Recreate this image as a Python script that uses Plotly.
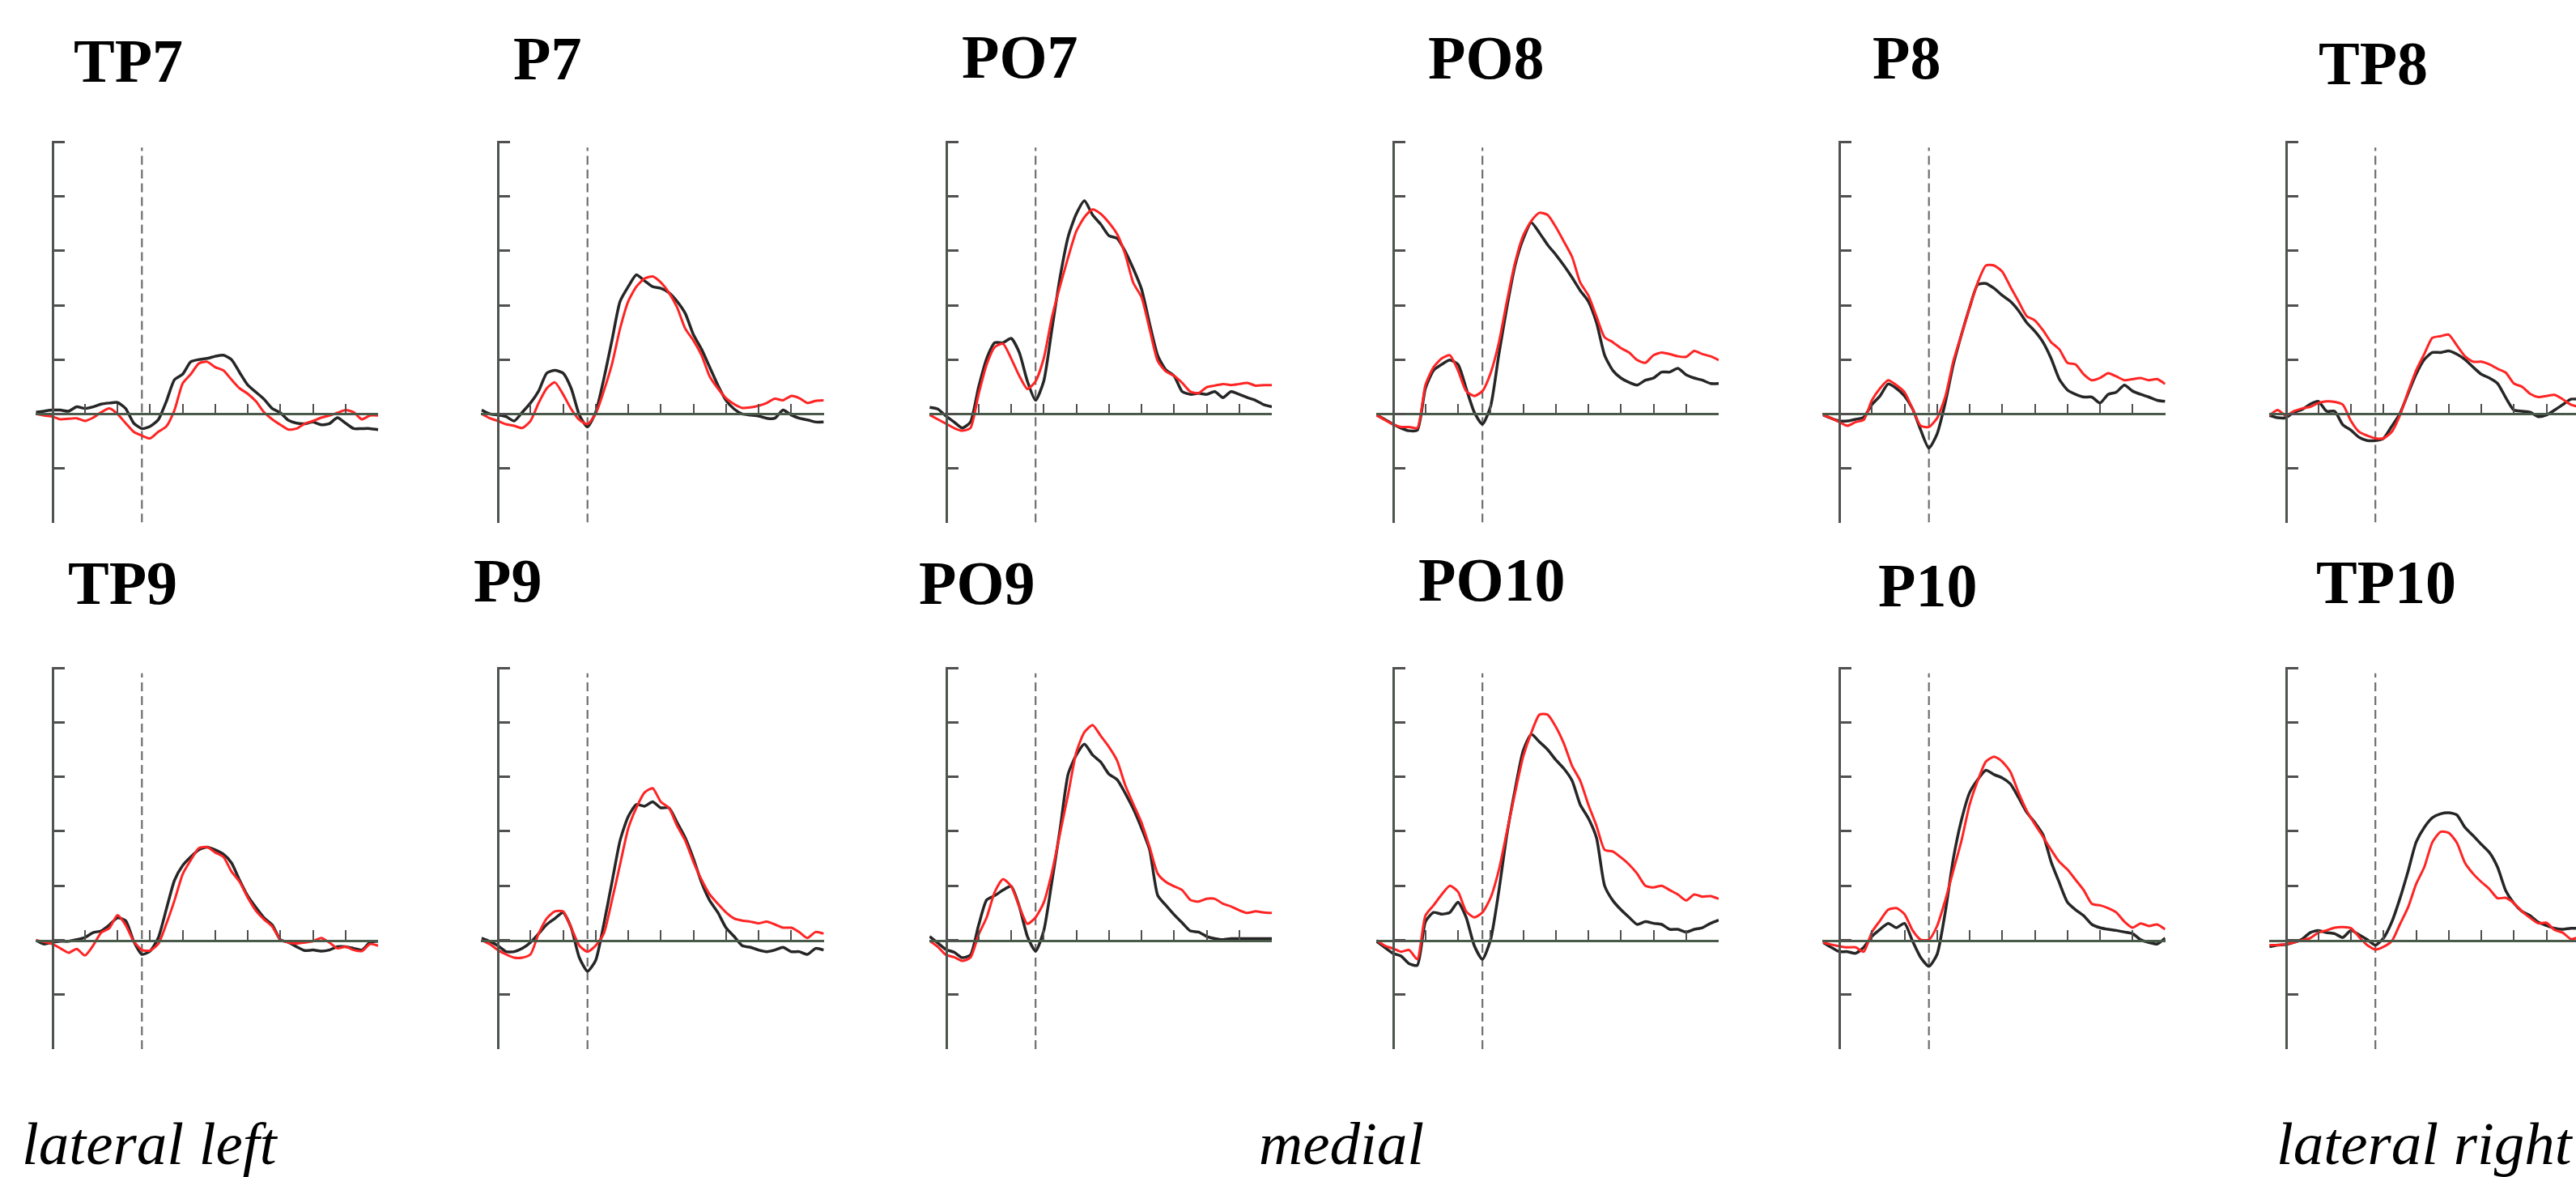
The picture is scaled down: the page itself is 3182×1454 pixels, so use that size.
import plotly.graph_objects as go

# ---------------- data ----------------
TIME = list(range(-325, 726, 25))          # ms, sample grid of the traces
XTICKS = list(range(-275, 726, 100))       # x tick positions (ms)
YTICKS = [-1, 0, 1, 2, 3, 4, 5]            # y tick positions (uV)
Y_RANGE = [-2, 5.02]
X_START = -326
X_END = 725.5
ONSET = 0
ONSET_SPAN = [-2, 4.9]

CHANNELS = [["TP7", "P7", "PO7", "PO8", "P8", "TP8"],
            ["TP9", "P9", "PO9", "PO10", "P10", "TP10"]]

TP7_black = [0.03, 0.05, 0.07, 0.07, 0.05, 0.13, 0.10, 0.13, 0.18, 0.20, 0.21, 0.10, -0.17, -0.27, -0.23, -0.11, 0.23, 0.63, 0.73, 0.96, 1.00, 1.02, 1.06, 1.08, 1.00, 0.76, 0.53, 0.40, 0.27, 0.10, 0.02, -0.12, -0.17, -0.18, -0.15, -0.20, -0.18, -0.07, -0.17, -0.27, -0.27, -0.27, -0.29]
TP7_red = [0, -0.03, -0.05, -0.10, -0.09, -0.08, -0.13, -0.07, 0.03, 0.10, 0, -0.17, -0.33, -0.40, -0.45, -0.33, -0.23, 0.07, 0.56, 0.73, 0.93, 0.96, 0.86, 0.80, 0.63, 0.47, 0.37, 0.23, 0.03, -0.10, -0.20, -0.29, -0.27, -0.18, -0.13, -0.07, -0.03, 0.02, 0.07, 0.03, -0.10, -0.03, -0.03]
P7_black = [0.07, 0, -0.02, -0.05, -0.13, 0.03, 0.20, 0.42, 0.75, 0.80, 0.75, 0.47, -0.02, -0.24, 0.03, 0.64, 1.35, 2.07, 2.34, 2.56, 2.45, 2.34, 2.31, 2.23, 2.07, 1.85, 1.46, 1.19, 0.86, 0.53, 0.25, 0.09, 0, -0.02, -0.04, -0.08, -0.08, 0.07, -0.02, -0.08, -0.11, -0.15, -0.15]
P7_red = [0, -0.08, -0.13, -0.19, -0.22, -0.26, -0.13, 0.20, 0.47, 0.58, 0.36, 0.09, -0.11, -0.19, 0, 0.42, 0.91, 1.57, 2.07, 2.34, 2.49, 2.53, 2.42, 2.23, 1.96, 1.57, 1.35, 1.08, 0.69, 0.47, 0.29, 0.18, 0.11, 0.12, 0.15, 0.20, 0.28, 0.25, 0.33, 0.29, 0.20, 0.24, 0.25]
PO7_black = [0.12, 0.09, -0.04, -0.15, -0.26, -0.15, 0.49, 1.02, 1.31, 1.31, 1.39, 1.13, 0.60, 0.25, 0.60, 1.55, 2.51, 3.26, 3.68, 3.92, 3.66, 3.49, 3.28, 3.23, 2.99, 2.67, 2.30, 1.66, 1.07, 0.81, 0.70, 0.41, 0.36, 0.38, 0.36, 0.41, 0.30, 0.41, 0.36, 0.30, 0.25, 0.17, 0.13]
PO7_red = [-0.02, -0.10, -0.18, -0.26, -0.31, -0.26, 0.36, 0.91, 1.23, 1.29, 1.02, 0.70, 0.46, 0.60, 1.02, 1.77, 2.35, 2.88, 3.36, 3.62, 3.76, 3.68, 3.52, 3.31, 2.94, 2.41, 2.15, 1.56, 0.97, 0.78, 0.70, 0.57, 0.41, 0.38, 0.49, 0.52, 0.55, 0.53, 0.55, 0.57, 0.52, 0.53, 0.53]
PO8_black = [-0.02, -0.10, -0.19, -0.26, -0.31, -0.30, 0.47, 0.80, 0.91, 0.99, 0.91, 0.47, 0.03, -0.19, 0.14, 1.08, 1.96, 2.73, 3.22, 3.52, 3.33, 3.11, 2.93, 2.73, 2.51, 2.27, 2.07, 1.68, 1.08, 0.80, 0.66, 0.58, 0.53, 0.62, 0.66, 0.77, 0.77, 0.84, 0.72, 0.66, 0.62, 0.56, 0.56]
PO8_red = [-0.02, -0.11, -0.19, -0.24, -0.24, -0.26, 0.53, 0.86, 1.02, 1.08, 0.80, 0.42, 0.33, 0.42, 0.75, 1.30, 2.07, 2.78, 3.28, 3.55, 3.70, 3.66, 3.44, 3.17, 2.89, 2.42, 2.18, 1.79, 1.41, 1.32, 1.21, 1.13, 0.99, 0.94, 1.08, 1.13, 1.10, 1.06, 1.05, 1.16, 1.10, 1.06, 0.99]
P8_black = [-0.02, -0.08, -0.13, -0.13, -0.10, -0.06, 0.17, 0.33, 0.55, 0.47, 0.33, 0.09, -0.30, -0.63, -0.37, 0.20, 0.91, 1.46, 1.96, 2.38, 2.40, 2.31, 2.18, 2.07, 1.90, 1.68, 1.52, 1.32, 1.02, 0.64, 0.44, 0.36, 0.31, 0.31, 0.20, 0.36, 0.40, 0.53, 0.42, 0.36, 0.31, 0.25, 0.23]
P8_red = [-0.02, -0.08, -0.15, -0.22, -0.15, -0.11, 0.25, 0.47, 0.62, 0.53, 0.40, 0.09, -0.22, -0.24, -0.08, 0.31, 0.97, 1.46, 1.96, 2.42, 2.73, 2.73, 2.62, 2.34, 2.07, 1.80, 1.72, 1.54, 1.32, 1.19, 0.94, 0.91, 0.73, 0.62, 0.66, 0.75, 0.69, 0.62, 0.64, 0.66, 0.62, 0.64, 0.55]
TP8_black = [-0.03, -0.07, -0.07, 0.03, 0.08, 0.18, 0.23, 0.05, 0.05, -0.20, -0.30, -0.43, -0.49, -0.49, -0.45, -0.23, 0, 0.37, 0.73, 1.00, 1.13, 1.13, 1.16, 1.10, 1.00, 0.86, 0.73, 0.66, 0.56, 0.30, 0.07, 0.05, 0.03, -0.05, -0.02, 0.07, 0.17, 0.27, 0.27]
TP8_red = [-0.03, 0.07, -0.03, 0.05, 0.10, 0.13, 0.20, 0.23, 0.22, 0.17, -0.13, -0.33, -0.40, -0.45, -0.45, -0.33, -0.03, 0.40, 0.80, 1.10, 1.40, 1.43, 1.46, 1.26, 1.06, 0.96, 0.96, 0.91, 0.83, 0.76, 0.56, 0.50, 0.37, 0.31, 0.33, 0.35, 0.27, 0.17, 0.13]
TP9_black = [0, -0.07, -0.04, -0.02, -0.02, 0.01, 0.05, 0.14, 0.17, 0.28, 0.41, 0.36, -0.02, -0.26, -0.20, 0.04, 0.57, 1.10, 1.37, 1.53, 1.66, 1.71, 1.66, 1.58, 1.42, 1.10, 0.81, 0.60, 0.41, 0.28, 0.01, -0.04, -0.12, -0.19, -0.18, -0.20, -0.18, -0.12, -0.12, -0.15, -0.18, -0.04, -0.02]
TP9_red = [0, -0.03, -0.07, -0.15, -0.23, -0.16, -0.28, -0.10, 0.14, 0.22, 0.46, 0.28, -0.02, -0.18, -0.19, -0.07, 0.30, 0.73, 1.21, 1.47, 1.69, 1.71, 1.61, 1.53, 1.26, 1.07, 0.78, 0.54, 0.38, 0.25, 0.01, -0.04, -0.06, -0.04, -0.02, 0.04, -0.04, -0.15, -0.12, -0.18, -0.20, -0.07, -0.10]
P9_black = [0.04, -0.02, -0.10, -0.21, -0.21, -0.15, -0.04, 0.12, 0.29, 0.40, 0.51, 0.23, -0.32, -0.57, -0.37, 0.29, 1.06, 1.83, 2.27, 2.49, 2.46, 2.54, 2.43, 2.43, 2.16, 1.88, 1.50, 1.06, 0.73, 0.51, 0.23, 0.07, -0.10, -0.13, -0.18, -0.21, -0.18, -0.13, -0.21, -0.21, -0.26, -0.15, -0.18]
P9_red = [0, -0.07, -0.18, -0.26, -0.32, -0.32, -0.26, 0.12, 0.40, 0.53, 0.53, 0.23, -0.10, -0.21, -0.10, 0.12, 0.73, 1.39, 2.05, 2.43, 2.71, 2.79, 2.54, 2.43, 2.10, 1.83, 1.44, 1.11, 0.84, 0.67, 0.51, 0.40, 0.36, 0.34, 0.31, 0.34, 0.29, 0.23, 0.23, 0.15, 0.04, 0.15, 0.12]
PO9_black = [0.07, -0.05, -0.17, -0.22, -0.32, -0.27, 0.27, 0.74, 0.82, 0.92, 0.99, 0.62, 0.07, -0.20, 0.17, 1.07, 2.03, 3.05, 3.40, 3.60, 3.40, 3.27, 3.05, 2.95, 2.70, 2.41, 2.06, 1.66, 0.82, 0.64, 0.47, 0.32, 0.17, 0.15, 0.07, 0.03, 0.01, 0.03, 0.03, 0.03, 0.03, 0.03, 0.03]
PO9_red = [-0.01, -0.12, -0.27, -0.31, -0.38, -0.32, 0.10, 0.42, 0.89, 1.12, 0.99, 0.62, 0.30, 0.42, 0.69, 1.24, 1.96, 2.68, 3.45, 3.82, 3.95, 3.75, 3.55, 3.30, 2.85, 2.50, 2.16, 1.71, 1.22, 1.07, 0.99, 0.92, 0.74, 0.71, 0.76, 0.76, 0.67, 0.62, 0.55, 0.50, 0.53, 0.51, 0.50]
PO10_black = [-0.02, -0.13, -0.24, -0.29, -0.43, -0.46, 0.34, 0.51, 0.48, 0.51, 0.70, 0.42, -0.10, -0.35, 0.01, 0.89, 1.94, 2.76, 3.48, 3.78, 3.64, 3.50, 3.31, 3.15, 2.93, 2.49, 2.24, 1.88, 1.00, 0.73, 0.56, 0.42, 0.29, 0.34, 0.31, 0.29, 0.20, 0.20, 0.15, 0.20, 0.23, 0.31, 0.37]
PO10_red = [0, -0.10, -0.15, -0.21, -0.18, -0.35, 0.45, 0.64, 0.84, 1.00, 0.89, 0.53, 0.42, 0.51, 0.78, 1.28, 1.99, 2.70, 3.37, 3.81, 4.14, 4.14, 3.92, 3.61, 3.20, 2.93, 2.49, 2.10, 1.66, 1.63, 1.52, 1.39, 1.22, 1.00, 0.97, 1.00, 0.92, 0.84, 0.73, 0.84, 0.80, 0.81, 0.76]
P10_black = [-0.04, -0.13, -0.21, -0.21, -0.24, -0.13, 0.07, 0.20, 0.31, 0.23, 0.31, -0.02, -0.32, -0.48, -0.26, 0.51, 1.50, 2.21, 2.71, 2.95, 3.12, 3.04, 2.98, 2.87, 2.62, 2.35, 2.16, 1.94, 1.44, 1.06, 0.70, 0.56, 0.45, 0.29, 0.23, 0.20, 0.18, 0.15, 0.12, 0.01, -0.04, -0.07, 0.04]
P10_red = [-0.04, -0.08, -0.11, -0.13, -0.13, -0.21, 0.15, 0.36, 0.56, 0.59, 0.48, 0.18, 0.01, 0.01, 0.26, 0.73, 1.28, 1.83, 2.49, 2.93, 3.28, 3.37, 3.28, 3.09, 2.71, 2.38, 2.13, 1.90, 1.66, 1.44, 1.30, 1.11, 0.92, 0.67, 0.64, 0.59, 0.51, 0.34, 0.23, 0.31, 0.26, 0.29, 0.20]
TP10_black = [-0.12, -0.09, -0.08, -0.04, 0.02, 0.14, 0.18, 0.14, 0.12, 0.05, 0.18, 0.10, 0.01, -0.09, 0.04, 0.33, 0.76, 1.26, 1.80, 2.07, 2.25, 2.32, 2.34, 2.30, 2.07, 1.92, 1.76, 1.61, 1.34, 0.91, 0.68, 0.53, 0.45, 0.33, 0.27, 0.22, 0.20, 0.22, 0.22]
TP10_red = [-0.09, -0.09, -0.07, -0.04, 0, 0.04, 0.14, 0.18, 0.23, 0.24, 0.22, 0.06, -0.09, -0.17, -0.12, -0.02, 0.29, 0.60, 1.03, 1.34, 1.80, 1.99, 1.97, 1.79, 1.42, 1.22, 1.07, 0.94, 0.77, 0.78, 0.68, 0.53, 0.41, 0.31, 0.32, 0.19, 0.14, 0.02, 0.06]

SERIES = {
    "TP7": (TP7_black, TP7_red), "P7": (P7_black, P7_red), "PO7": (PO7_black, PO7_red),
    "PO8": (PO8_black, PO8_red), "P8": (P8_black, P8_red), "TP8": (TP8_black, TP8_red),
    "TP9": (TP9_black, TP9_red), "P9": (P9_black, P9_red), "PO9": (PO9_black, PO9_red),
    "PO10": (PO10_black, PO10_red), "P10": (P10_black, P10_red), "TP10": (TP10_black, TP10_red),
}

REGION_LABELS = ["lateral left", "medial", "lateral right"]

# ---------------- layout (pixels) ----------------
W, H = 3182, 1454
COL_AXIS_PX = [64.6, 615, 1168.5, 1720.5, 2272, 2823.5]
PX_PER_MS = 0.4025
ROW_ZERO_PX = [511.3, 1161.5]
ROW_UNIT_PX = [67.14, 67.3]
TITLE_LEFT_PX = [[90, 633, 1187, 1763, 2312, 2863], [83, 584, 1134, 1751, 2319, 2860]]
TITLE_MID_PX = [[75, 72, 70, 71, 71, 78], [720, 717, 720, 716, 723, 719]]
LABEL_LEFT_PX = [26, 1554, 2811]
LABEL_MID_PX = 1412

BLACK = "#262626"
RED = "#ff2424"
AXIS_Y = "#4e544e"
AXIS_X = "#4a5a4a"
TICK = "#505050"
DASH = "#6e6e6e"
SERIF = "Liberation Serif, Times New Roman, serif"

fig = go.Figure()
layout = dict(width=W, height=H, margin=dict(l=0, r=0, t=0, b=0),
              paper_bgcolor="white", plot_bgcolor="white", showlegend=False)
annotations = []

n = 0
for r in range(2):
    for c in range(6):
        n += 1
        name = CHANNELS[r][c]
        black, red = SERIES[name]
        ax_px = COL_AXIS_PX[c]
        x0_px = ax_px + (X_START - XTICKS[0]) * PX_PER_MS
        x1_px = ax_px + (X_END - XTICKS[0]) * PX_PER_MS
        x_end = X_END
        if x1_px > W:
            x1_px = W
            x_end = XTICKS[0] + (W - ax_px) / PX_PER_MS
        zero = ROW_ZERO_PX[r]
        unit = ROW_UNIT_PX[r]
        yb_px = zero - Y_RANGE[0] * unit
        yt_px = zero - Y_RANGE[1] * unit
        sfx = "" if n == 1 else str(n)
        xa, ya = "x" + sfx, "y" + sfx
        layout["xaxis" + sfx] = dict(
            domain=[x0_px / W, x1_px / W], range=[X_START, x_end],
            anchor="free", position=(H - zero) / H,
            showline=True, linecolor=AXIS_X, linewidth=2.5,
            ticks="inside", ticklen=12, tickwidth=2, tickcolor=TICK,
            tickmode="array", tickvals=XTICKS, showticklabels=False,
            showgrid=False, zeroline=False)
        layout["yaxis" + sfx] = dict(
            domain=[(H - yb_px) / H, (H - yt_px) / H], range=Y_RANGE,
            anchor="free", position=ax_px / W,
            showline=True, linecolor=AXIS_Y, linewidth=3,
            ticks="inside", ticklen=13, tickwidth=2.5, tickcolor=TICK,
            tickmode="array", tickvals=YTICKS, showticklabels=False,
            showgrid=False, zeroline=False)
        fig.add_trace(go.Scatter(x=[ONSET, ONSET], y=ONSET_SPAN, mode="lines",
                                 line=dict(color=DASH, width=2.2, dash="11px,6px"),
                                 xaxis=xa, yaxis=ya, hoverinfo="skip"))
        fig.add_trace(go.Scatter(x=TIME[:len(black)], y=black, mode="lines",
                                 line=dict(color=BLACK, width=3.5, shape="spline", smoothing=0.6),
                                 xaxis=xa, yaxis=ya, name=name + " black"))
        fig.add_trace(go.Scatter(x=TIME[:len(red)], y=red, mode="lines",
                                 line=dict(color=RED, width=3, shape="spline", smoothing=0.6),
                                 xaxis=xa, yaxis=ya, name=name + " red"))
        annotations.append(dict(
            text=name, xref="paper", yref="paper",
            x=TITLE_LEFT_PX[r][c] / W, y=(H - TITLE_MID_PX[r][c]) / H,
            xanchor="left", yanchor="middle", showarrow=False, borderpad=0,
            font=dict(family=SERIF, size=76, color="black", weight="bold")))

for label, lx in zip(REGION_LABELS, LABEL_LEFT_PX):
    annotations.append(dict(
        text=label, xref="paper", yref="paper",
        x=lx / W, y=(H - LABEL_MID_PX) / H,
        xanchor="left", yanchor="middle", showarrow=False, borderpad=0,
        font=dict(family=SERIF, size=75, color="black", style="italic")))

layout["annotations"] = annotations
fig.update_layout(**layout)
fig.write_html("out.html")
